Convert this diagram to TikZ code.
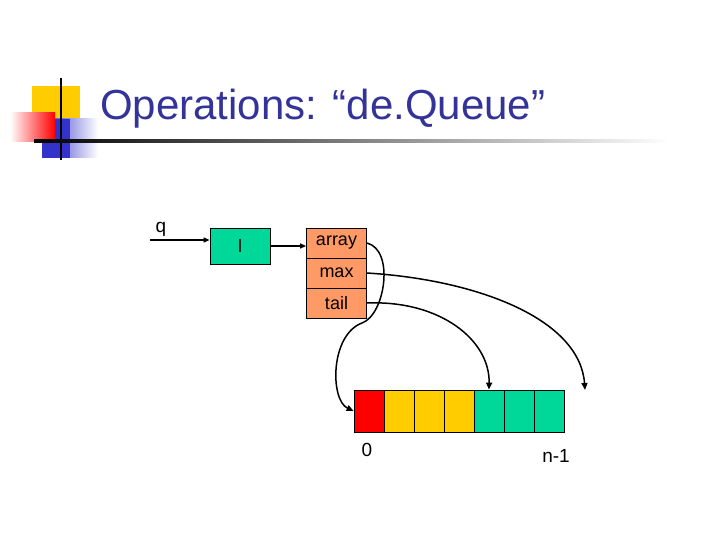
\documentclass[tikz,border=0pt]{standalone}
\usepackage{fontspec}
\setmainfont{Liberation Sans}
\usetikzlibrary{arrows.meta}
\definecolor{navy}{HTML}{333399}
\definecolor{cgreen}{HTML}{00D89A}
\definecolor{corange}{HTML}{FF9966}
\definecolor{cyellow}{HTML}{FFCC00}
\definecolor{cred}{HTML}{FF0000}
\definecolor{cblue}{HTML}{3333CC}
\tikzset{
  box/.style={draw=black, line width=0.8pt, minimum width=60pt, minimum height=30pt, inner sep=0pt, font=\fontsize{18pt}{20pt}\selectfont},
  cell/.style={draw=black, line width=0.8pt, minimum width=30pt, minimum height=42pt, inner sep=0pt},
  ptr/.style={line width=1.5pt, -{Triangle[length=7pt,width=6pt]}},
  lbl/.style={font=\fontsize{19pt}{21pt}\selectfont, inner sep=0pt}
}
\begin{document}
\begin{tikzpicture}[x=1pt,y=-1pt]
\useasboundingbox (0,0) rectangle (720,540);
% logo
\fill[cyellow] (32,86) rectangle (80,118);
\shade[left color=cblue, right color=white] (42,119) rectangle (98,158);
\fill[cblue] (42,119) rectangle (70,158);
\shade[left color=white, right color=cred] (10,113) rectangle (55,142);
\draw[line width=2.5pt] (61,78) -- (61,160);
\shade[left color=black, right color=white] (34,140) rectangle (670,142.5);
\node[anchor=base west, text=navy, inner sep=0pt, font=\fontsize{42pt}{46pt}\selectfont] (title) at (100,120) {Operations: “de.Queue”};
% nodes
\coordinate (qs) at (150,240);
\node[lbl, anchor=base] (q) at (161,233) {q};
\node[box, fill=cgreen, minimum width=60pt, minimum height=36pt] (l) at (240,246) {l};
\node[box, fill=corange] (arr) at (336.5,243) {array};
\node[box, fill=corange] (max) at (336.5,273) {max};
\node[box, fill=corange] (tail) at (336.5,303) {tail};
\foreach \i/\c in {0/cred,1/cyellow,2/cyellow,3/cyellow,4/cgreen,5/cgreen,6/cgreen}
  \node[cell, fill=\c] (c\i) at (369+30*\i,411) {};
\node[lbl] (zero) at (367,450) {0};
\node[lbl] (nm) at (556,456) {n-1};
\coordinate (maxend) at (585,390);
% arrows
\draw[line width=1.5pt, -{Triangle[length=6pt,width=5pt]}] (qs) -- (l.west |- qs);
\draw[line width=1.5pt, -{Triangle[length=6pt,width=5pt]}] (l.east) -- (arr.west |- l.east);
\draw[ptr] (arr.east) .. controls (395,250) and (385,315) .. (362,323)
  .. controls (330,335) and (330,400) .. (c0.west);
\draw[ptr] (tail.east) .. controls (440,300) and (490,340) .. (c4.north);
\draw[ptr] (max.east) .. controls (480,280) and (580,320) .. (maxend);
\end{tikzpicture}
\end{document}
